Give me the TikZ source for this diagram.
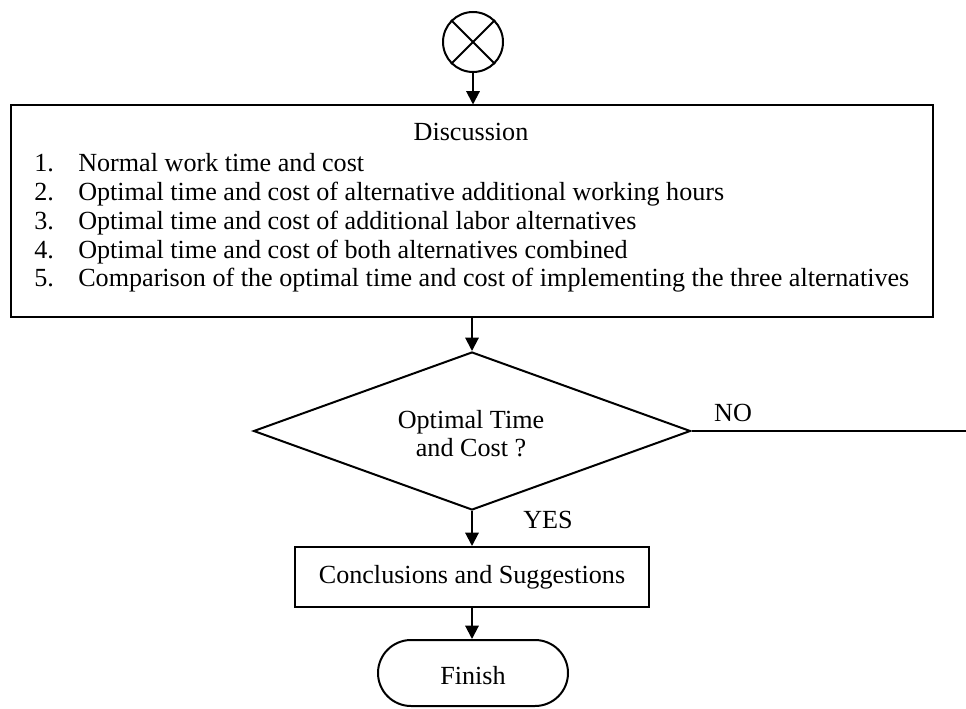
\documentclass[tikz,border=0pt]{standalone}
\usepackage{fontspec}
\setmainfont{Liberation Serif}
\usetikzlibrary{arrows.meta,shapes.geometric,shapes.misc}
\begin{document}
\begin{tikzpicture}[x=0.75pt,y=-0.75pt,
  every node/.style={font=\fontsize{19.6}{21}\selectfont},
  ln/.style={line width=1.5pt},
  arr/.style={ln,-{Triangle[length=10pt,width=10pt]}},
  boxs/.style={draw,ln,rectangle,inner sep=0pt},
  txt/.style={inner sep=0pt,anchor=base west},
  ctxt/.style={inner sep=0pt,anchor=base}]
\useasboundingbox (0,0) rectangle (966,709);
% start connector circle
\node[draw,ln,circle,minimum size=60*0.75pt,inner sep=0pt] (start) at (473,42) {};
\draw[ln] (start.north west) -- (start.south east);
\draw[ln] (start.north east) -- (start.south west);
% discussion box
\node[boxs,minimum width=922*0.75pt,minimum height=211*0.75pt] (disc) at (472,211) {};
\node[ctxt] (dtitle) at (471,141) {Discussion};
\node[txt] (n1) at (34,172) {1.};
\node[txt] (t1) at (78,172) {Normal work time and cost};
\node[txt] (n2) at (34,201) {2.};
\node[txt] (t2) at (78,201) {Optimal time and cost of alternative additional working hours};
\node[txt] (n3) at (34,229) {3.};
\node[txt] (t3) at (78,229) {Optimal time and cost of additional labor alternatives};
\node[txt] (n4) at (34,258) {4.};
\node[txt] (t4) at (78,258) {Optimal time and cost of both alternatives combined};
\node[txt] (n5) at (34,286) {5.};
\node[txt] (t5) at (78,286) {Comparison of the optimal time and cost of implementing the three alternatives};
% decision
\node[draw,ln,diamond,inner sep=0pt,minimum width=437*0.75pt,minimum height=158*0.75pt] (dia) at (472,431) {};
\node[ctxt] (dtext1) at (471,428) {Optimal Time};
\node[ctxt] (dtext2) at (471,456) {and Cost ?};
\coordinate (noend) at (966,431);
\draw[ln] (dia.east) -- (noend);
\node[inner sep=0pt] (no) at (733,413) {NO};
% conclusions
\node[boxs,minimum width=354*0.75pt,minimum height=60*0.75pt] (conc) at (472,577) {Conclusions and Suggestions};
\node[inner sep=0pt] (yes) at (548,520) {YES};
% finish
\node[draw,ln,rounded rectangle,inner sep=0pt,minimum width=190*0.75pt,minimum height=66*0.75pt] (fin) at (473,673) {};
\node[ctxt] (fintext) at (473,684) {Finish};
% arrows
\draw[arr] (start.south) -- (start.south |- disc.north);
\draw[arr] (disc.south -| dia.north) -- (dia.north);
\draw[arr] (dia.south) -- (dia.south |- conc.north);
\draw[arr] (conc.south -| dia.south) -- (fin.north -| dia.south);
\end{tikzpicture}
\end{document}
